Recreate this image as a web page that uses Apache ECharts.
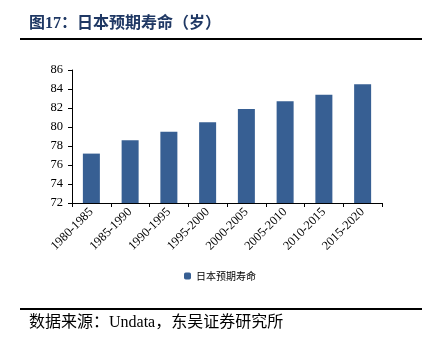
<!DOCTYPE html>
<html><head><meta charset="utf-8">
<script src="https://cdn.jsdelivr.net/npm/echarts@6/dist/echarts.min.js"></script>
<style>html,body{margin:0;padding:0;background:#fff}#c{width:434px;height:337px}</style>
</head><body><div id="c"></div>
<script>
const categories = ['1980-1985','1985-1990','1990-1995','1995-2000','2000-2005','2005-2010','2010-2015','2015-2020'];
const lifeExpectancy = [77.2, 78.6, 79.5, 80.5, 81.9, 82.7, 83.4, 84.5];
const seriesName = '日本预期寿命';
const titleText = '图17：日本预期寿命（岁）';
const sourceText = '数据来源：Undata，东吴证券研究所';

const chart = echarts.init(document.getElementById('c'), null, {renderer:'canvas'});
chart.setOption({
  animation:false,
  backgroundColor:'#fff',
  grid:{left:72, right:52, top:70, bottom:134, containLabel:false},
  legend:{
    data:[seriesName], bottom:51, left:179, itemWidth:7, itemHeight:7, itemGap:3,
    textStyle:{fontSize:10, color:'#000', fontFamily:'Noto Sans CJK SC'}
  },
  xAxis:{
    type:'category', data:categories,
    axisLine:{lineStyle:{color:'#000', width:1}},
    axisTick:{show:true, alignWithLabel:false, length:4, lineStyle:{color:'#000'}},
    axisLabel:{rotate:45, fontSize:12.5, color:'#000', fontFamily:'Liberation Serif', margin:7, interval:0}
  },
  yAxis:{
    type:'value', min:72, max:86, interval:2,
    splitLine:{show:false},
    axisLine:{show:true, lineStyle:{color:'#000', width:1}},
    axisTick:{show:true, length:4, lineStyle:{color:'#000'}},
    axisLabel:{fontSize:12.5, color:'#000', fontFamily:'Liberation Serif', margin:9}
  },
  series:[{
    name:seriesName, type:'bar', data:lifeExpectancy, barWidth:17,
    itemStyle:{color:'#375F93'}
  }],
  graphic:[
    {type:'text', left:29, top:16, style:{text:titleText, fontSize:16, fontWeight:'bold', fill:'#1F3864', fontFamily:'Liberation Serif, Noto Sans CJK SC'}},
    {type:'line', shape:{x1:20, y1:39, x2:422, y2:39}, style:{stroke:'#000', lineWidth:2}},
    {type:'line', shape:{x1:20, y1:309, x2:422, y2:309}, style:{stroke:'#000', lineWidth:2}},
    {type:'text', left:29, top:315, style:{text:sourceText, fontSize:16, fill:'#000', fontFamily:'Liberation Serif, Noto Sans CJK SC'}}
  ]
});
</script></body></html>
